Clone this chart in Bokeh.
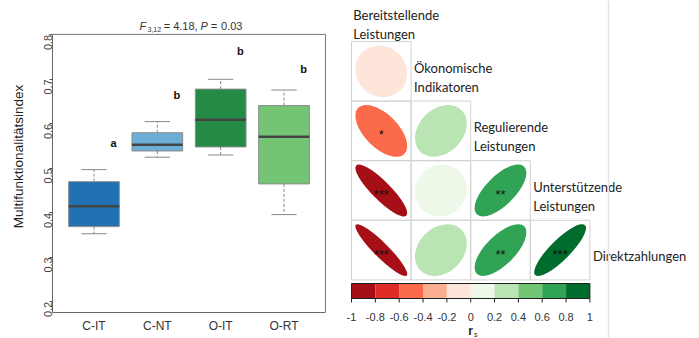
import math
from bokeh.plotting import figure
from bokeh.layouts import row
from bokeh.models import Range1d, FixedTicker, Span, ColumnDataSource
from bokeh.transform import linear_cmap
from bokeh.embed import file_html
from bokeh.resources import INLINE
from bokeh.core.properties import value

# ---------------- data: left panel (box plot) ----------------
groups = ["C-IT", "C-NT", "O-IT", "O-RT"]
whisker_low = [0.353, 0.525, 0.530, 0.396]
q1 = [0.369, 0.539, 0.548, 0.465]
median = [0.415, 0.553, 0.609, 0.571]
q3 = [0.470, 0.580, 0.678, 0.641]
whisker_high = [0.497, 0.605, 0.700, 0.676]
box_colors = ["#2171b5", "#6baed6", "#238b45", "#74c476"]
letters = ["a", "b", "b", "b"]
letter_y = [0.557, 0.665, 0.764, 0.724]
y_ticks = [0.2, 0.3, 0.4, 0.5, 0.6, 0.7, 0.8]

# ---------------- data: right panel (correlation matrix) ----------------
col_top_name = "Bereitstellende\nLeistungen"
row_names = ["Ökonomische\nIndikatoren", "Regulierende\nLeistungen",
             "Unterstützende\nLeistungen", "Direktzahlungen"]
r_row = [0, 1, 1, 2, 2, 2, 3, 3, 3, 3]
r_col = [0, 0, 1, 0, 1, 2, 0, 1, 2, 3]
r_val = [-0.08, -0.58, 0.28, -0.87, 0.05, 0.68, -0.92, 0.25, 0.68, 0.85]
r_sig = ["", "*", "", "***", "", "**", "***", "", "**", "***"]
cb_edges = [-1, -0.8, -0.6, -0.4, -0.2, 0, 0.2, 0.4, 0.6, 0.8, 1]
cb_labels = ["-1", "-0.8", "-0.6", "-0.4", "-0.2", "0", "0.2", "0.4", "0.6", "0.8", "1"]
palette = ["#a50f15", "#de2d26", "#fb6a4a", "#fcae91", "#fee5d9",
           "#edf8e9", "#bae4b3", "#74c476", "#31a354", "#006d2c"]

SANS = "Liberation Sans"

# ================= left figure =================
xs = list(range(1, len(groups) + 1))
box_w = 0.8
cap_w = 0.4
src = ColumnDataSource(dict(
    x=xs, wl=whisker_low, q1=q1, med=median, q3=q3, wh=whisker_high, color=box_colors,
    bl=[v - box_w / 2 for v in xs], br=[v + box_w / 2 for v in xs],
    cl=[v - cap_w / 2 for v in xs], cr=[v + cap_w / 2 for v in xs],
))

X_LO, X_HI = 0.345, 4.655          # plot box (data units)
Y_LO, Y_HI = 0.176, 0.801
PX_X = 63.33                        # px per x unit
PX_Y = 445.0                        # px per y unit
p1 = figure(width=343, height=338,
            x_range=Range1d(X_LO, X_HI + 2 / PX_X),
            y_range=Range1d(Y_LO, Y_LO + 312 / PX_Y),
            output_backend="svg", toolbar_location=None,
            min_border_left=52, min_border_right=16, min_border_top=0, min_border_bottom=26)
p1.frame_align = False
p1.grid.visible = False
p1.outline_line_color = None

# plot box top & right edges (left & bottom come from the axes)
p1.segment(x0=[X_LO, X_HI], y0=[Y_HI, Y_LO], x1=[X_HI, X_HI], y1=[Y_HI, Y_HI],
           line_color="#777777", line_width=1)

p1.segment(x0="x", y0="q3", x1="x", y1="wh", source=src, line_color="#888888", line_dash="3 2", line_width=1)
p1.segment(x0="x", y0="q1", x1="x", y1="wl", source=src, line_color="#888888", line_dash="3 2", line_width=1)
p1.segment(x0="cl", y0="wh", x1="cr", y1="wh", source=src, line_color="#888888", line_width=1)
p1.segment(x0="cl", y0="wl", x1="cr", y1="wl", source=src, line_color="#888888", line_width=1)
p1.vbar(x="x", width=box_w, bottom="q1", top="q3", source=src, fill_color="color",
        line_color="#8c8c8c", line_width=1)
p1.segment(x0="bl", y0="med", x1="br", y1="med", source=src, line_color="#444444", line_width=2.5)

p1.text(x=[v + 0.31 for v in xs], y=letter_y, text=letters, text_font=value(SANS),
        text_font_size="11px", text_font_style="bold", text_align="center",
        text_baseline="middle", text_color="#111111")

# title: F_{3,12} = 4.18,  P  =  0.03
ty = 0.8196
title_parts = [
    (1.719, ty, "F", "italic", "11px"),
    (1.845, ty - 0.0067, "3,12", "normal", "7px"),
    (2.100, ty, "= 4.18,", "normal", "11px"),
    (2.682, ty, "P", "italic", "11px"),
    (2.845, ty, "=", "normal", "11px"),
    (3.005, ty, "0.03", "normal", "11px"),
]
for tx, tyy, tt, style, size in title_parts:
    p1.text(x=[tx], y=[tyy], text=[tt], text_font=value(SANS), text_font_style=style,
            text_font_size=size, text_baseline="middle", text_align="left",
            text_color="#333333")

p1.yaxis.ticker = FixedTicker(ticks=y_ticks)
p1.yaxis.bounds = (Y_LO, Y_HI)
p1.yaxis.major_label_orientation = math.pi / 2
p1.yaxis.major_tick_out = 3
p1.yaxis.major_tick_in = 0
p1.yaxis.minor_tick_out = 0
p1.yaxis.minor_tick_in = 0
p1.yaxis.major_label_standoff = 1
p1.yaxis.major_label_text_font = SANS
p1.yaxis.major_label_text_font_size = "11px"
p1.yaxis.major_label_text_color = "#444444"
p1.yaxis.axis_line_color = "#666666"
p1.yaxis.major_tick_line_color = "#555555"
p1.yaxis.axis_label = "Multifunktionalitätsindex"
p1.yaxis.axis_label_text_font = SANS
p1.yaxis.axis_label_text_font_size = "13.5px"
p1.yaxis.axis_label_text_font_style = "normal"
p1.yaxis.axis_label_text_color = "#222222"
p1.yaxis.axis_label_standoff = 12

p1.xaxis.ticker = FixedTicker(ticks=xs)
p1.xaxis.major_label_overrides = {v: g for v, g in zip(xs, groups)}
p1.xaxis.bounds = (X_LO, X_HI)
p1.xaxis.major_tick_out = 0
p1.xaxis.major_tick_in = 0
p1.xaxis.minor_tick_out = 0
p1.xaxis.minor_tick_in = 0
p1.xaxis.major_label_standoff = 6
p1.xaxis.major_label_text_font = SANS
p1.xaxis.major_label_text_font_size = "12px"
p1.xaxis.major_label_text_color = "#333333"
p1.xaxis.axis_line_color = "#666666"

# ================= right figure: matrix + colour bar =================
unit = 59.6                          # px per matrix cell
W2, H2 = 356, 338
x_left = -8 / unit                   # grid starts 8 px from figure's left edge
y_top = 41 / unit                    # grid starts 41 px below figure's top edge
p2 = figure(width=W2, height=H2,
            x_range=Range1d(x_left, x_left + W2 / unit),
            y_range=Range1d(y_top - H2 / unit, y_top),
            x_axis_location=None, y_axis_location=None, min_border=0,
            output_backend="svg", toolbar_location=None)
p2.frame_align = False
p2.grid.visible = False
p2.outline_line_color = None

# colour-bar scale: r in [-1, 1] spans the 4 grid columns
cb_px = 4 * unit / 2.0
p2.extra_x_ranges = {"cb": Range1d(-1 - 8 / cb_px, -1 + (W2 - 8) / cb_px)}

p2.add_layout(Span(location=(608 - 351) / unit, dimension="height", line_color="#e4e4e4", line_width=1.5))

cell_x, cell_y = [], []
for i in range(len(row_names)):
    for j in range(i + 1):
        cell_x.append(j + 0.5)
        cell_y.append(-(i + 0.5))
p2.rect(x=cell_x, y=cell_y, width=1, height=1, fill_color=None, line_color="#d2d2d2", line_width=1)

s = 0.87
msrc = ColumnDataSource(dict(
    x=[c + 0.5 for c in r_col], y=[-(r + 0.5) for r in r_row], r=r_val, sig=r_sig,
    w=[s * math.sqrt(1 + v) for v in r_val], h=[s * math.sqrt(1 - v) for v in r_val],
))
p2.ellipse(x="x", y="y", width="w", height="h", angle=math.pi / 4, source=msrc,
           fill_color=linear_cmap("r", palette, -1, 1), line_color=None)
p2.text(x="x", y="y", text="sig", source=msrc, text_font=value(SANS), text_font_size="13px",
        text_align="center", text_baseline="middle", y_offset=4, text_color="#111111")

lab_x = [i + 1 + 0.05 for i in range(len(row_names))]
lab_y = [-(i + 0.5) - 0.1 for i in range(len(row_names))]
p2.text(x=lab_x, y=lab_y, text=row_names, text_font=value("Lato"), text_font_size="13px",
        text_align="left", text_baseline="middle", text_color="#222222",
        background_fill_color="white")
p2.text(x=[0.03], y=[y_top - 24 / unit], text=[col_top_name], text_font=value("Lato"),
        text_font_size="13px", text_align="left", text_baseline="middle", text_color="#222222")

# colour bar
cb_top = y_top - 283 / unit
cb_bot = y_top - 298 / unit
p2.quad(left=cb_edges[:-1], right=cb_edges[1:], bottom=cb_bot, top=cb_top,
        fill_color=palette, line_color=None, x_range_name="cb")
p2.quad(left=[cb_edges[0]], right=[cb_edges[-1]], bottom=[cb_bot], top=[cb_top],
        fill_color=None, line_color="#222222", line_width=1, x_range_name="cb")
p2.segment(x0=cb_edges, y0=cb_bot, x1=cb_edges, y1=cb_bot - 4 / unit,
           line_color="#222222", line_width=1, x_range_name="cb")
p2.text(x=cb_edges, y=y_top - 316 / unit, text=cb_labels, text_font=value(SANS),
        text_font_size="11px", text_align="center", text_baseline="middle",
        text_color="#333333", x_range_name="cb")
p2.text(x=[0.0], y=[y_top - 330 / unit], text=["r"], text_font=value(SANS), text_font_style="bold",
        text_font_size="12px", text_align="center", text_baseline="middle",
        text_color="#222222", x_range_name="cb")
p2.text(x=[0.042], y=[y_top - 334 / unit], text=["s"], text_font=value(SANS),
        text_font_size="7px", text_align="center", text_baseline="middle",
        text_color="#222222", x_range_name="cb")

layout = row(p1, p2)
open("out.html", "w").write(file_html(layout, INLINE))
